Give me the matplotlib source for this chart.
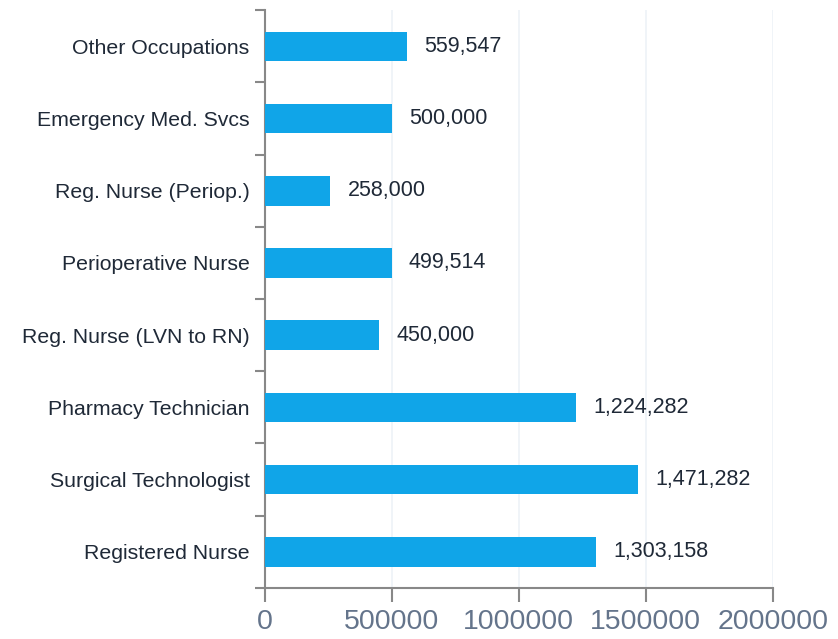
import numpy as np
import matplotlib
matplotlib.use('Agg')
from matplotlib import pyplot as plt

# data (bottom to top)
occupations = ['Registered Nurse', 'Surgical Technologist', 'Pharmacy Technician',
               'Reg. Nurse (LVN to RN)', 'Perioperative Nurse', 'Reg. Nurse (Periop.)',
               'Emergency Med. Svcs', 'Other Occupations']
values = [1303158, 1471282, 1224282, 450000, 499514, 258000, 500000, 559547]
x_ticks = [0, 500000, 1000000, 1500000, 2000000]

plt.rcParams['font.family'] = ['Liberation Sans', 'DejaVu Sans']

fig = plt.figure(figsize=(8.38, 6.39), dpi=100)
ax = fig.add_axes([0.316, 0.080, 0.606, 0.904])

y = np.arange(len(occupations))
ax.barh(y, values, height=0.41, color='#10A5E8', zorder=3)

for yi, v in zip(y, values):
    ax.text(v + 68000, yi, f'{v:,}', va='center', ha='left',
            fontsize=15.5, color='#1f2937')

ax.set_xlim(0, 2000000)
ax.set_ylim(-0.5, len(occupations) - 0.5)

# category labels centred, ticks at boundaries
ax.set_yticks(y)
ax.set_yticklabels(occupations, fontsize=15.3, color='#1f2937')
ax.tick_params(axis='y', length=0, pad=11)
ax.set_yticks(np.arange(-0.5, len(occupations)), minor=True)
ax.tick_params(axis='y', which='minor', length=7, width=1.5, color='#888888', direction='out')

ax.set_xticks(x_ticks)
ax.set_xticklabels([str(t) for t in x_ticks], fontsize=20.5, color='#64748b')
ax.tick_params(axis='x', length=10, width=1.5, color='#888888', pad=5)

ax.grid(axis='x', color='#eef2f7', linewidth=1.2, zorder=0)

for s in ['top', 'right']:
    ax.spines[s].set_visible(False)
for s in ['left', 'bottom']:
    ax.spines[s].set_color('#888888')
    ax.spines[s].set_linewidth(1.5)

fig.savefig('out.png', dpi=100)
